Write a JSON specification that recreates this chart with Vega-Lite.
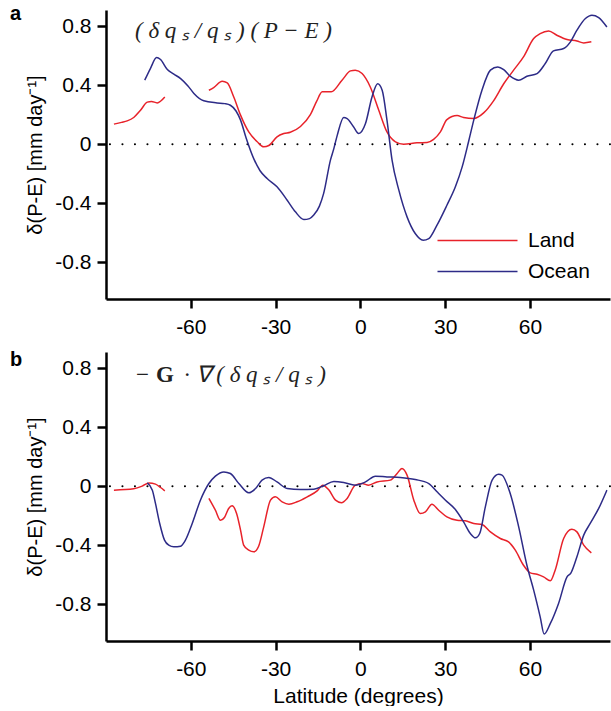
{
  "$schema": "https://vega.github.io/schema/vega-lite/v6.json",
  "padding": {"left": 10, "top": 4, "right": 0, "bottom": 0},
  "background": "white",
  "config": {
    "view": {"stroke": null},
    "font": "Liberation Sans",
    "axis": {
      "grid": false,
      "domainColor": "black",
      "domainWidth": 2.5,
      "tickColor": "black",
      "tickWidth": 2.5,
      "tickSize": 9,
      "labelColor": "black",
      "labelFontSize": 21,
      "labelFont": "Liberation Sans",
      "titleColor": "black",
      "titleFont": "Liberation Sans",
      "titleFontWeight": "normal",
      "labelExpr": "datum.value == 0 ? '0' : replace(datum.label, '\u2212', '-')"
    }
  },
  "datasets": {
    "panelA": [
      {"series": "Land", "seg": 1, "lat": -87.2, "val": 0.136},
      {"series": "Land", "seg": 1, "lat": -84.5, "val": 0.148},
      {"series": "Land", "seg": 1, "lat": -82.5, "val": 0.158},
      {"series": "Land", "seg": 1, "lat": -80.2, "val": 0.181},
      {"series": "Land", "seg": 1, "lat": -77.8, "val": 0.23},
      {"series": "Land", "seg": 1, "lat": -75.4, "val": 0.285},
      {"series": "Land", "seg": 1, "lat": -73.9, "val": 0.29},
      {"series": "Land", "seg": 1, "lat": -71.9, "val": 0.28},
      {"series": "Land", "seg": 1, "lat": -69.2, "val": 0.32},
      {"series": "Land", "seg": 2, "lat": -53.6, "val": 0.366},
      {"series": "Land", "seg": 2, "lat": -51.9, "val": 0.384},
      {"series": "Land", "seg": 2, "lat": -48.9, "val": 0.427},
      {"series": "Land", "seg": 2, "lat": -47.1, "val": 0.416},
      {"series": "Land", "seg": 2, "lat": -44.8, "val": 0.32},
      {"series": "Land", "seg": 2, "lat": -42.4, "val": 0.197},
      {"series": "Land", "seg": 2, "lat": -39.5, "val": 0.083},
      {"series": "Land", "seg": 2, "lat": -36.5, "val": 0.016},
      {"series": "Land", "seg": 2, "lat": -34.2, "val": -0.018},
      {"series": "Land", "seg": 2, "lat": -32.4, "val": -0.009},
      {"series": "Land", "seg": 2, "lat": -29.5, "val": 0.05},
      {"series": "Land", "seg": 2, "lat": -27.1, "val": 0.072},
      {"series": "Land", "seg": 2, "lat": -24.8, "val": 0.081},
      {"series": "Land", "seg": 2, "lat": -21.2, "val": 0.12},
      {"series": "Land", "seg": 2, "lat": -17.7, "val": 0.2},
      {"series": "Land", "seg": 2, "lat": -15.5, "val": 0.29},
      {"series": "Land", "seg": 2, "lat": -13.5, "val": 0.355},
      {"series": "Land", "seg": 2, "lat": -10.3, "val": 0.355},
      {"series": "Land", "seg": 2, "lat": -6.5, "val": 0.434},
      {"series": "Land", "seg": 2, "lat": -3.5, "val": 0.497},
      {"series": "Land", "seg": 2, "lat": -1.8, "val": 0.502},
      {"series": "Land", "seg": 2, "lat": 0.6, "val": 0.479},
      {"series": "Land", "seg": 2, "lat": 3.5, "val": 0.388},
      {"series": "Land", "seg": 2, "lat": 6.5, "val": 0.23},
      {"series": "Land", "seg": 2, "lat": 9.4, "val": 0.083},
      {"series": "Land", "seg": 2, "lat": 12.4, "val": 0.016},
      {"series": "Land", "seg": 2, "lat": 15.3, "val": 0.0},
      {"series": "Land", "seg": 2, "lat": 20.0, "val": 0.009},
      {"series": "Land", "seg": 2, "lat": 23.6, "val": 0.011},
      {"series": "Land", "seg": 2, "lat": 25.9, "val": 0.032},
      {"series": "Land", "seg": 2, "lat": 28.3, "val": 0.083},
      {"series": "Land", "seg": 2, "lat": 30.6, "val": 0.167},
      {"series": "Land", "seg": 2, "lat": 34.2, "val": 0.194},
      {"series": "Land", "seg": 2, "lat": 36.5, "val": 0.181},
      {"series": "Land", "seg": 2, "lat": 40.1, "val": 0.174},
      {"series": "Land", "seg": 2, "lat": 43.6, "val": 0.212},
      {"series": "Land", "seg": 2, "lat": 47.1, "val": 0.294},
      {"series": "Land", "seg": 2, "lat": 50.7, "val": 0.41},
      {"series": "Land", "seg": 2, "lat": 54.2, "val": 0.502},
      {"series": "Land", "seg": 2, "lat": 57.7, "val": 0.592},
      {"series": "Land", "seg": 2, "lat": 61.3, "val": 0.716},
      {"series": "Land", "seg": 2, "lat": 63.6, "val": 0.75},
      {"series": "Land", "seg": 2, "lat": 66.6, "val": 0.768},
      {"series": "Land", "seg": 2, "lat": 69.5, "val": 0.739},
      {"series": "Land", "seg": 2, "lat": 73.1, "val": 0.71},
      {"series": "Land", "seg": 2, "lat": 76.6, "val": 0.7},
      {"series": "Land", "seg": 2, "lat": 79.0, "val": 0.687},
      {"series": "Land", "seg": 2, "lat": 81.7, "val": 0.694},
      {"series": "Ocean", "seg": 1, "lat": -76.3, "val": 0.434},
      {"series": "Ocean", "seg": 1, "lat": -74.3, "val": 0.513},
      {"series": "Ocean", "seg": 1, "lat": -72.1, "val": 0.588},
      {"series": "Ocean", "seg": 1, "lat": -70.7, "val": 0.574},
      {"series": "Ocean", "seg": 1, "lat": -68.3, "val": 0.506},
      {"series": "Ocean", "seg": 1, "lat": -66.0, "val": 0.475},
      {"series": "Ocean", "seg": 1, "lat": -63.6, "val": 0.445},
      {"series": "Ocean", "seg": 1, "lat": -61.0, "val": 0.395},
      {"series": "Ocean", "seg": 1, "lat": -58.9, "val": 0.344},
      {"series": "Ocean", "seg": 1, "lat": -55.4, "val": 0.294},
      {"series": "Ocean", "seg": 1, "lat": -50.7, "val": 0.28},
      {"series": "Ocean", "seg": 1, "lat": -48.0, "val": 0.275},
      {"series": "Ocean", "seg": 1, "lat": -46.0, "val": 0.264},
      {"series": "Ocean", "seg": 1, "lat": -44.0, "val": 0.225},
      {"series": "Ocean", "seg": 1, "lat": -42.4, "val": 0.163},
      {"series": "Ocean", "seg": 1, "lat": -40.4, "val": 0.04},
      {"series": "Ocean", "seg": 1, "lat": -37.7, "val": -0.1},
      {"series": "Ocean", "seg": 1, "lat": -35.5, "val": -0.18},
      {"series": "Ocean", "seg": 1, "lat": -33.0, "val": -0.233},
      {"series": "Ocean", "seg": 1, "lat": -29.5, "val": -0.289},
      {"series": "Ocean", "seg": 1, "lat": -25.9, "val": -0.38},
      {"series": "Ocean", "seg": 1, "lat": -23.0, "val": -0.459},
      {"series": "Ocean", "seg": 1, "lat": -20.0, "val": -0.511},
      {"series": "Ocean", "seg": 1, "lat": -18.0, "val": -0.505},
      {"series": "Ocean", "seg": 1, "lat": -16.5, "val": -0.481},
      {"series": "Ocean", "seg": 1, "lat": -14.5, "val": -0.42},
      {"series": "Ocean", "seg": 1, "lat": -13.0, "val": -0.334},
      {"series": "Ocean", "seg": 1, "lat": -10.6, "val": -0.108},
      {"series": "Ocean", "seg": 1, "lat": -9.4, "val": -0.03},
      {"series": "Ocean", "seg": 1, "lat": -8.2, "val": 0.06},
      {"series": "Ocean", "seg": 1, "lat": -5.9, "val": 0.181},
      {"series": "Ocean", "seg": 1, "lat": -4.7, "val": 0.174},
      {"series": "Ocean", "seg": 1, "lat": -2.5, "val": 0.12},
      {"series": "Ocean", "seg": 1, "lat": -0.6, "val": 0.072},
      {"series": "Ocean", "seg": 1, "lat": 1.8, "val": 0.14},
      {"series": "Ocean", "seg": 1, "lat": 4.1, "val": 0.32},
      {"series": "Ocean", "seg": 1, "lat": 6.1, "val": 0.41},
      {"series": "Ocean", "seg": 1, "lat": 7.7, "val": 0.366},
      {"series": "Ocean", "seg": 1, "lat": 9.4, "val": 0.163},
      {"series": "Ocean", "seg": 1, "lat": 11.2, "val": -0.108},
      {"series": "Ocean", "seg": 1, "lat": 13.6, "val": -0.312},
      {"series": "Ocean", "seg": 1, "lat": 16.5, "val": -0.493},
      {"series": "Ocean", "seg": 1, "lat": 19.4, "val": -0.606},
      {"series": "Ocean", "seg": 1, "lat": 22.2, "val": -0.651},
      {"series": "Ocean", "seg": 1, "lat": 24.2, "val": -0.64},
      {"series": "Ocean", "seg": 1, "lat": 27.1, "val": -0.549},
      {"series": "Ocean", "seg": 1, "lat": 30.6, "val": -0.414},
      {"series": "Ocean", "seg": 1, "lat": 33.6, "val": -0.289},
      {"series": "Ocean", "seg": 1, "lat": 36.0, "val": -0.154},
      {"series": "Ocean", "seg": 1, "lat": 38.3, "val": 0.02},
      {"series": "Ocean", "seg": 1, "lat": 40.1, "val": 0.163},
      {"series": "Ocean", "seg": 1, "lat": 43.0, "val": 0.366},
      {"series": "Ocean", "seg": 1, "lat": 46.0, "val": 0.502},
      {"series": "Ocean", "seg": 1, "lat": 48.6, "val": 0.524},
      {"series": "Ocean", "seg": 1, "lat": 50.7, "val": 0.506},
      {"series": "Ocean", "seg": 1, "lat": 53.0, "val": 0.461},
      {"series": "Ocean", "seg": 1, "lat": 56.0, "val": 0.434},
      {"series": "Ocean", "seg": 1, "lat": 58.9, "val": 0.461},
      {"series": "Ocean", "seg": 1, "lat": 62.5, "val": 0.479},
      {"series": "Ocean", "seg": 1, "lat": 65.4, "val": 0.547},
      {"series": "Ocean", "seg": 1, "lat": 68.3, "val": 0.633},
      {"series": "Ocean", "seg": 1, "lat": 71.9, "val": 0.649},
      {"series": "Ocean", "seg": 1, "lat": 74.3, "val": 0.694},
      {"series": "Ocean", "seg": 1, "lat": 76.6, "val": 0.773},
      {"series": "Ocean", "seg": 1, "lat": 79.6, "val": 0.852},
      {"series": "Ocean", "seg": 1, "lat": 81.9, "val": 0.875},
      {"series": "Ocean", "seg": 1, "lat": 84.3, "val": 0.859},
      {"series": "Ocean", "seg": 1, "lat": 87.2, "val": 0.795}
    ],
    "panelB": [
      {"series": "Land", "seg": 1, "lat": -87.2, "val": -0.027},
      {"series": "Land", "seg": 1, "lat": -80.2, "val": -0.018},
      {"series": "Land", "seg": 1, "lat": -77.2, "val": 0.0},
      {"series": "Land", "seg": 1, "lat": -74.8, "val": 0.022},
      {"series": "Land", "seg": 1, "lat": -72.5, "val": 0.014},
      {"series": "Land", "seg": 1, "lat": -70.7, "val": -0.009},
      {"series": "Land", "seg": 1, "lat": -69.2, "val": -0.032},
      {"series": "Land", "seg": 2, "lat": -53.6, "val": -0.083},
      {"series": "Land", "seg": 2, "lat": -51.3, "val": -0.163},
      {"series": "Land", "seg": 2, "lat": -49.5, "val": -0.231},
      {"series": "Land", "seg": 2, "lat": -48.1, "val": -0.212},
      {"series": "Land", "seg": 2, "lat": -46.6, "val": -0.151},
      {"series": "Land", "seg": 2, "lat": -45.4, "val": -0.133},
      {"series": "Land", "seg": 2, "lat": -43.8, "val": -0.185},
      {"series": "Land", "seg": 2, "lat": -42.4, "val": -0.298},
      {"series": "Land", "seg": 2, "lat": -41.3, "val": -0.4},
      {"series": "Land", "seg": 2, "lat": -39.5, "val": -0.434},
      {"series": "Land", "seg": 2, "lat": -37.7, "val": -0.445},
      {"series": "Land", "seg": 2, "lat": -36.0, "val": -0.407},
      {"series": "Land", "seg": 2, "lat": -34.2, "val": -0.276},
      {"series": "Land", "seg": 2, "lat": -31.8, "val": -0.095},
      {"series": "Land", "seg": 2, "lat": -30.1, "val": -0.072},
      {"series": "Land", "seg": 2, "lat": -27.7, "val": -0.106},
      {"series": "Land", "seg": 2, "lat": -25.3, "val": -0.122},
      {"series": "Land", "seg": 2, "lat": -22.4, "val": -0.106},
      {"series": "Land", "seg": 2, "lat": -18.8, "val": -0.072},
      {"series": "Land", "seg": 2, "lat": -15.3, "val": -0.032},
      {"series": "Land", "seg": 2, "lat": -13.3, "val": 0.007},
      {"series": "Land", "seg": 2, "lat": -11.2, "val": -0.025},
      {"series": "Land", "seg": 2, "lat": -8.8, "val": -0.095},
      {"series": "Land", "seg": 2, "lat": -6.7, "val": -0.112},
      {"series": "Land", "seg": 2, "lat": -4.7, "val": -0.083},
      {"series": "Land", "seg": 2, "lat": -1.8, "val": 0.007},
      {"series": "Land", "seg": 2, "lat": 0.6, "val": 0.018},
      {"series": "Land", "seg": 2, "lat": 2.9, "val": 0.007},
      {"series": "Land", "seg": 2, "lat": 5.9, "val": 0.029},
      {"series": "Land", "seg": 2, "lat": 10.6, "val": 0.041},
      {"series": "Land", "seg": 2, "lat": 13.0, "val": 0.086},
      {"series": "Land", "seg": 2, "lat": 14.7, "val": 0.12},
      {"series": "Land", "seg": 2, "lat": 16.5, "val": 0.075},
      {"series": "Land", "seg": 2, "lat": 18.9, "val": -0.095},
      {"series": "Land", "seg": 2, "lat": 21.2, "val": -0.185},
      {"series": "Land", "seg": 2, "lat": 23.0, "val": -0.174},
      {"series": "Land", "seg": 2, "lat": 25.3, "val": -0.122},
      {"series": "Land", "seg": 2, "lat": 27.7, "val": -0.163},
      {"series": "Land", "seg": 2, "lat": 30.6, "val": -0.208},
      {"series": "Land", "seg": 2, "lat": 34.2, "val": -0.231},
      {"series": "Land", "seg": 2, "lat": 37.1, "val": -0.235},
      {"series": "Land", "seg": 2, "lat": 40.1, "val": -0.253},
      {"series": "Land", "seg": 2, "lat": 43.0, "val": -0.26},
      {"series": "Land", "seg": 2, "lat": 46.0, "val": -0.31},
      {"series": "Land", "seg": 2, "lat": 49.5, "val": -0.355},
      {"series": "Land", "seg": 2, "lat": 52.4, "val": -0.378},
      {"series": "Land", "seg": 2, "lat": 54.8, "val": -0.434},
      {"series": "Land", "seg": 2, "lat": 57.7, "val": -0.536},
      {"series": "Land", "seg": 2, "lat": 60.1, "val": -0.588},
      {"series": "Land", "seg": 2, "lat": 62.5, "val": -0.597},
      {"series": "Land", "seg": 2, "lat": 64.8, "val": -0.615},
      {"series": "Land", "seg": 2, "lat": 67.2, "val": -0.642},
      {"series": "Land", "seg": 2, "lat": 68.9, "val": -0.57},
      {"series": "Land", "seg": 2, "lat": 71.9, "val": -0.355},
      {"series": "Land", "seg": 2, "lat": 74.8, "val": -0.292},
      {"series": "Land", "seg": 2, "lat": 76.6, "val": -0.31},
      {"series": "Land", "seg": 2, "lat": 79.0, "val": -0.4},
      {"series": "Land", "seg": 2, "lat": 81.7, "val": -0.452},
      {"series": "Ocean", "seg": 1, "lat": -75.4, "val": 0.022},
      {"series": "Ocean", "seg": 1, "lat": -73.6, "val": -0.027},
      {"series": "Ocean", "seg": 1, "lat": -72.5, "val": -0.117},
      {"series": "Ocean", "seg": 1, "lat": -71.0, "val": -0.253},
      {"series": "Ocean", "seg": 1, "lat": -69.3, "val": -0.366},
      {"series": "Ocean", "seg": 1, "lat": -67.8, "val": -0.4},
      {"series": "Ocean", "seg": 1, "lat": -66.0, "val": -0.411},
      {"series": "Ocean", "seg": 1, "lat": -63.6, "val": -0.407},
      {"series": "Ocean", "seg": 1, "lat": -61.9, "val": -0.366},
      {"series": "Ocean", "seg": 1, "lat": -59.5, "val": -0.253},
      {"series": "Ocean", "seg": 1, "lat": -56.6, "val": -0.095},
      {"series": "Ocean", "seg": 1, "lat": -53.6, "val": 0.018},
      {"series": "Ocean", "seg": 1, "lat": -51.3, "val": 0.068},
      {"series": "Ocean", "seg": 1, "lat": -48.3, "val": 0.097},
      {"series": "Ocean", "seg": 1, "lat": -46.0, "val": 0.086},
      {"series": "Ocean", "seg": 1, "lat": -43.0, "val": 0.018},
      {"series": "Ocean", "seg": 1, "lat": -39.5, "val": -0.045},
      {"series": "Ocean", "seg": 1, "lat": -37.1, "val": -0.016},
      {"series": "Ocean", "seg": 1, "lat": -34.8, "val": 0.041},
      {"series": "Ocean", "seg": 1, "lat": -32.4, "val": 0.059},
      {"series": "Ocean", "seg": 1, "lat": -29.5, "val": 0.029},
      {"series": "Ocean", "seg": 1, "lat": -25.9, "val": -0.016},
      {"series": "Ocean", "seg": 1, "lat": -21.2, "val": -0.023},
      {"series": "Ocean", "seg": 1, "lat": -16.5, "val": -0.02},
      {"series": "Ocean", "seg": 1, "lat": -13.0, "val": 0.003},
      {"series": "Ocean", "seg": 1, "lat": -9.4, "val": 0.032},
      {"series": "Ocean", "seg": 1, "lat": -5.9, "val": 0.025},
      {"series": "Ocean", "seg": 1, "lat": -1.8, "val": 0.007},
      {"series": "Ocean", "seg": 1, "lat": 1.8, "val": 0.029},
      {"series": "Ocean", "seg": 1, "lat": 5.3, "val": 0.068},
      {"series": "Ocean", "seg": 1, "lat": 9.4, "val": 0.063},
      {"series": "Ocean", "seg": 1, "lat": 14.1, "val": 0.059},
      {"series": "Ocean", "seg": 1, "lat": 19.4, "val": 0.045},
      {"series": "Ocean", "seg": 1, "lat": 24.2, "val": 0.018},
      {"series": "Ocean", "seg": 1, "lat": 27.1, "val": -0.038},
      {"series": "Ocean", "seg": 1, "lat": 30.1, "val": -0.095},
      {"series": "Ocean", "seg": 1, "lat": 33.6, "val": -0.158},
      {"series": "Ocean", "seg": 1, "lat": 36.5, "val": -0.242},
      {"series": "Ocean", "seg": 1, "lat": 38.9, "val": -0.321},
      {"series": "Ocean", "seg": 1, "lat": 40.7, "val": -0.35},
      {"series": "Ocean", "seg": 1, "lat": 42.2, "val": -0.321},
      {"series": "Ocean", "seg": 1, "lat": 44.2, "val": -0.14},
      {"series": "Ocean", "seg": 1, "lat": 46.6, "val": 0.041},
      {"series": "Ocean", "seg": 1, "lat": 48.9, "val": 0.081},
      {"series": "Ocean", "seg": 1, "lat": 50.1, "val": 0.075},
      {"series": "Ocean", "seg": 1, "lat": 53.0, "val": -0.05},
      {"series": "Ocean", "seg": 1, "lat": 56.0, "val": -0.276},
      {"series": "Ocean", "seg": 1, "lat": 58.9, "val": -0.536},
      {"series": "Ocean", "seg": 1, "lat": 61.3, "val": -0.705},
      {"series": "Ocean", "seg": 1, "lat": 63.6, "val": -0.886},
      {"series": "Ocean", "seg": 1, "lat": 65.0, "val": -1.003},
      {"series": "Ocean", "seg": 1, "lat": 67.2, "val": -0.931},
      {"series": "Ocean", "seg": 1, "lat": 70.1, "val": -0.795},
      {"series": "Ocean", "seg": 1, "lat": 73.1, "val": -0.615},
      {"series": "Ocean", "seg": 1, "lat": 74.5, "val": -0.588},
      {"series": "Ocean", "seg": 1, "lat": 76.6, "val": -0.479},
      {"series": "Ocean", "seg": 1, "lat": 79.0, "val": -0.332},
      {"series": "Ocean", "seg": 1, "lat": 81.3, "val": -0.253},
      {"series": "Ocean", "seg": 1, "lat": 84.3, "val": -0.151},
      {"series": "Ocean", "seg": 1, "lat": 87.2, "val": -0.027}
    ]
  },
  "bounds": "flush",
  "spacing": 53,
  "resolve": {"legend": {"color": "independent"}},
  "vconcat": [
    {
      "width": 504,
      "height": 289,
      "layer": [
        {
          "data": {"values": [{"zero": 0}]},
          "mark": {"type": "rule", "color": "black", "strokeWidth": 2, "strokeCap": "round", "strokeDash": [0.1, 12.4]},
          "encoding": {"y": {"field": "zero", "type": "quantitative"}}
        },
        {
          "data": {"name": "panelA"},
          "mark": {"type": "line", "strokeWidth": 1.5, "interpolate": "monotone"},
          "encoding": {
            "x": {
              "field": "lat", "type": "quantitative",
              "scale": {"domain": [-90, 88.3], "nice": false, "zero": false},
              "axis": {"values": [-60, -30, 0, 30, 60], "title": null, "labelPadding": 8}
            },
            "y": {
              "field": "val", "type": "quantitative",
              "scale": {"domain": [-1.05, 0.91], "nice": false},
              "axis": {"values": [-0.8, -0.4, 0, 0.4, 0.8], "title": "δ(P-E) [mm day⁻¹]", "titleFontSize": 20, "titlePadding": 9, "labelPadding": 6}
            },
            "color": {
              "field": "series", "type": "nominal",
              "scale": {"domain": ["Land", "Ocean"], "range": ["#e8222a", "#2d2b87"]},
              "legend": {
                "orient": "none", "legendX": 361, "legendY": 220, "title": null,
                "symbolType": "M-8,0H8", "symbolSize": 100, "symbolStrokeWidth": 1.5,
                "labelFontSize": 21, "labelFont": "Liberation Sans", "labelColor": "black",
                "labelOffset": 40, "rowPadding": 9, "padding": 0
              }
            },
            "detail": {"field": "seg", "type": "nominal"}
          }
        },
        {
          "data": {"values": [{"label": "a"}]},
          "mark": {"type": "text", "font": "Liberation Sans", "fontWeight": "bold", "fontSize": 20, "align": "left", "baseline": "alphabetic", "dx": -96, "dy": 10, "color": "black"},
          "encoding": {"x": {"datum": -90}, "y": {"datum": 0.91}, "text": {"field": "label"}}
        },
        {
          "data": {"values": [{"label": "( δ q ₛ / q ₛ )  ( P  −  E )"}]},
          "mark": {"type": "text", "font": "Liberation Serif", "fontStyle": "italic", "fontSize": 23, "align": "left", "baseline": "alphabetic", "dx": 29, "dy": 28, "color": "#222222"},
          "encoding": {"x": {"datum": -90}, "y": {"datum": 0.91}, "text": {"field": "label"}}
        }
      ]
    },
    {
      "width": 504,
      "height": 289,
      "layer": [
        {
          "data": {"values": [{"zero": 0}]},
          "mark": {"type": "rule", "color": "black", "strokeWidth": 2, "strokeCap": "round", "strokeDash": [0.1, 12.4]},
          "encoding": {"y": {"field": "zero", "type": "quantitative"}}
        },
        {
          "data": {"name": "panelB"},
          "mark": {"type": "line", "strokeWidth": 1.5, "interpolate": "monotone"},
          "encoding": {
            "x": {
              "field": "lat", "type": "quantitative",
              "scale": {"domain": [-90, 88.3], "nice": false, "zero": false},
              "axis": {"values": [-60, -30, 0, 30, 60], "title": "Latitude (degrees)", "titleFontSize": 21, "titlePadding": 6, "labelPadding": 8}
            },
            "y": {
              "field": "val", "type": "quantitative",
              "scale": {"domain": [-1.05, 0.91], "nice": false},
              "axis": {"values": [-0.8, -0.4, 0, 0.4, 0.8], "title": "δ(P-E) [mm day⁻¹]", "titleFontSize": 20, "titlePadding": 9, "labelPadding": 6}
            },
            "color": {
              "field": "series", "type": "nominal",
              "scale": {"domain": ["Land", "Ocean"], "range": ["#e8222a", "#2d2b87"]},
              "legend": null
            },
            "detail": {"field": "seg", "type": "nominal"}
          }
        },
        {
          "data": {"values": [{"label": "b"}]},
          "mark": {"type": "text", "font": "Liberation Sans", "fontWeight": "bold", "fontSize": 20, "align": "left", "baseline": "alphabetic", "dx": -96, "dy": 14, "color": "black"},
          "encoding": {"x": {"datum": -90}, "y": {"datum": 0.91}, "text": {"field": "label"}}
        },
        {
          "data": {"values": [{"label": "−"}]},
          "mark": {"type": "text", "font": "Liberation Serif", "fontSize": 23, "align": "left", "baseline": "alphabetic", "dx": 30, "dy": 30, "color": "#222222"},
          "encoding": {"x": {"datum": -90}, "y": {"datum": 0.91}, "text": {"field": "label"}}
        },
        {
          "data": {"values": [{"label": "G"}]},
          "mark": {"type": "text", "font": "Liberation Serif", "fontWeight": "bold", "fontSize": 23, "align": "left", "baseline": "alphabetic", "dx": 50, "dy": 30, "color": "#222222"},
          "encoding": {"x": {"datum": -90}, "y": {"datum": 0.91}, "text": {"field": "label"}}
        },
        {
          "data": {"values": [{"label": "·  ∇ ( δ q ₛ / q ₛ )"}]},
          "mark": {"type": "text", "font": "Liberation Serif", "fontStyle": "italic", "fontSize": 23, "align": "left", "baseline": "alphabetic", "dx": 78, "dy": 30, "color": "#222222"},
          "encoding": {"x": {"datum": -90}, "y": {"datum": 0.91}, "text": {"field": "label"}}
        }
      ]
    }
  ]
}
